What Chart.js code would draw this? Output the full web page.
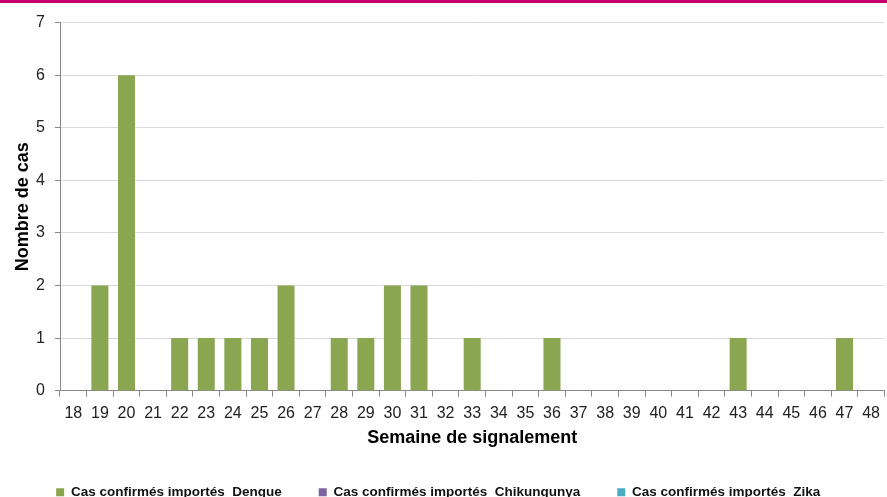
<!DOCTYPE html>
<html>
<head>
<meta charset="utf-8">
<script src="https://cdn.jsdelivr.net/npm/chart.js@4"></script>
<style>
  html, body { margin: 0; padding: 0; overflow: hidden; background: #fff; }
  .wrap { width: 887px; height: 509px; border-top: 3px solid #c8006e; box-sizing: border-box; }
</style>
</head>
<body>
<div class="wrap"><canvas id="casChart" width="887" height="506"></canvas></div>
<script>
const weeks = ['18','19','20','21','22','23','24','25','26','27','28','29','30','31','32','33',
    '34','35','36','37','38','39','40','41','42','43','44','45','46','47','48'];
const dengue     = [0,2,6,0,1,1,1,1,2,0,1,1,2,2,0,1,0,0,1,0,0,0,0,0,0,1,0,0,0,1,0];
const chikungunya = [0,0,0,0,0,0,0,0,0,0,0,0,0,0,0,0,0,0,0,0,0,0,0,0,0,0,0,0,0,0,0];
const zika       = [0,0,0,0,0,0,0,0,0,0,0,0,0,0,0,0,0,0,0,0,0,0,0,0,0,0,0,0,0,0,0];
const yTicks = [0,1,2,3,4,5,6,7];

const ctx = document.getElementById('casChart').getContext('2d');

const barStyle = { grouped: false, borderWidth: 0, categoryPercentage: 1, barPercentage: 0.64 };

new Chart(ctx, {
    type: 'bar',
    data: {
        labels: weeks,
        datasets: [
            { label: 'Cas confirmés importés  Dengue', data: dengue, backgroundColor: '#8aa650', ...barStyle },
            { label: 'Cas confirmés importés  Chikungunya', data: chikungunya, backgroundColor: '#8064a2', ...barStyle },
            { label: 'Cas confirmés importés  Zika', data: zika, backgroundColor: '#4bacc6', ...barStyle }
        ]
    },
    options: {
        responsive: false,
        animation: false,
        layout: { padding: { left: 12, right: 0, top: 9, bottom: 0 } },
        plugins: {
            tooltip: { enabled: false },
            legend: {
                position: 'bottom',
                labels: {
                    boxWidth: 8, boxHeight: 8, padding: 37,
                    color: '#111',
                    font: { family: 'Liberation Sans', size: 13.5, weight: 'bold' },
                    generateLabels: chart => {
                        const items = Chart.defaults.plugins.legend.labels.generateLabels(chart);
                        // trailing room after the last entry, so the row sits like the original
                        items[items.length - 1].text += '      ';
                        return items;
                    }
                }
            }
        },
        scales: {
            x: {
                grid: { offset: true, drawOnChartArea: false, color: '#888', tickLength: 6 },
                border: { color: '#888' },
                ticks: { color: '#222', font: { family: 'Liberation Sans', size: 16 }, maxRotation: 0, autoSkip: false, padding: 7 },
                title: { display: true, text: 'Semaine de signalement', color: '#000',
                         font: { family: 'Liberation Sans', size: 18, weight: 'bold' }, padding: { top: -3, bottom: 0 } }
            },
            y: {
                min: 0, max: 7,
                afterBuildTicks: axis => { axis.ticks = yTicks.map(v => ({ value: v })); },
                afterFit: axis => { axis.width = 48; },
                grid: { color: '#d9d9d9', tickColor: '#888', tickLength: 5 },
                border: { color: '#888' },
                ticks: { color: '#222', font: { family: 'Liberation Sans', size: 16 }, padding: 10 },
                title: { display: true, text: 'Nombre de cas', color: '#000',
                         font: { family: 'Liberation Sans', size: 18, weight: 'bold' }, padding: 0 }
            }
        }
    }
});
</script>
</body>
</html>
